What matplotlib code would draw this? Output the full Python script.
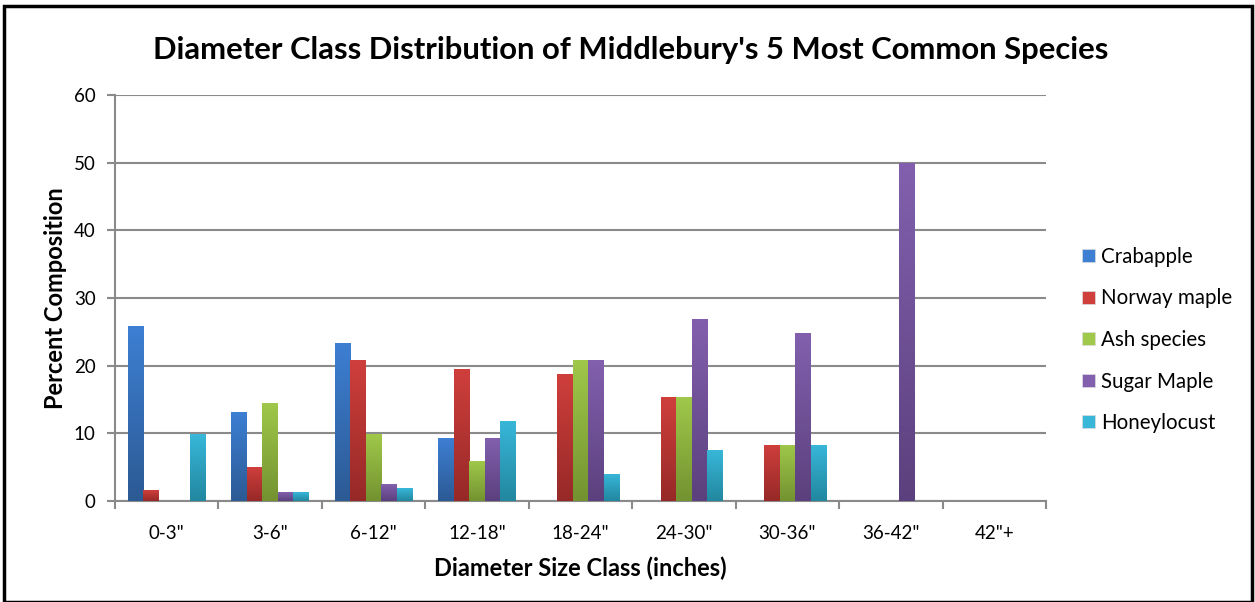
import matplotlib
matplotlib.use("Agg")
import matplotlib.pyplot as plt
import numpy as np
from matplotlib.colors import LinearSegmentedColormap
from matplotlib.patches import Rectangle

plt.rcParams['font.family'] = ['Lato', 'DejaVu Sans']

categories = ['0-3"', '3-6"', '6-12"', '12-18"', '18-24"', '24-30"', '30-36"', '36-42"', '42"+']
series_names = ['Crabapple', 'Norway maple', 'Ash species', 'Sugar Maple', 'Honeylocust']
crabapple = [25.8, 13.1, 23.4, 9.3, 0, 0, 0, 0, 0]
norway_maple = [1.6, 5.0, 20.9, 19.5, 18.7, 15.3, 8.3, 0, 0]
ash_species = [0, 14.5, 9.9, 5.9, 20.8, 15.3, 8.3, 0, 0]
sugar_maple = [0, 1.3, 2.5, 9.3, 20.8, 26.9, 24.9, 50.0, 0]
honeylocust = [9.9, 1.3, 1.9, 11.8, 4.0, 7.5, 8.3, 0, 0]
series_values = [crabapple, norway_maple, ash_species, sugar_maple, honeylocust]

top_colors = ['#3D7FD3', '#CF3F3C', '#A0C84A', '#8260AE', '#38B7D9']
bottom_colors = ['#2C5A94', '#962927', '#739230', '#5B407D', '#22879F']

fig = plt.figure(figsize=(12.55, 6.02), dpi=100)
W, H = 1255, 602
ax = fig.add_axes([115 / W, 1 - 501 / H, (1046 - 115) / W, (501 - 95) / H])

x = np.arange(len(categories))
bw = 0.15
handles = []
for i, (name, vals) in enumerate(zip(series_names, series_values)):
    offs = (i - 2) * bw
    bars = ax.bar(x + offs, vals, width=bw, color=top_colors[i], label=name,
                  edgecolor='none', zorder=3)
    cmap = LinearSegmentedColormap.from_list('g%d' % i, [bottom_colors[i], top_colors[i]])
    for b in bars:
        h = b.get_height()
        if h <= 0:
            continue
        bx, by = b.get_x(), b.get_y()
        im = ax.imshow(np.linspace(0, 1, 256).reshape(-1, 1), cmap=cmap, aspect='auto',
                       extent=[bx, bx + bw, by, by + h], origin='lower', zorder=4,
                       interpolation='bilinear')
        im.set_clip_path(b)
    handles.append(Rectangle((0, 0), 1, 1, facecolor=top_colors[i], edgecolor='#dddddd', lw=0.5))

ax.set_xlim(-0.5, len(categories) - 0.5)
ax.set_ylim(0, 60)
ax.set_yticks(np.arange(0, 61, 10))
ax.grid(axis='y', color='#8a8a8a', linewidth=1.5, zorder=0)
ax.set_axisbelow(True)

ax.set_xticks(np.arange(-0.5, len(categories), 1.0))
ax.set_xticklabels([])
ax.set_xticks(x, minor=True)
ax.set_xticklabels(categories, minor=True)
ax.tick_params(axis='x', which='major', length=6, width=1.5, color='#8a8a8a', direction='out')
ax.tick_params(axis='x', which='minor', length=0, pad=17, labelsize=13.5)
ax.tick_params(axis='y', length=6, width=1.5, color='#8a8a8a', labelsize=13.5, pad=8)

for s in ['top', 'right']:
    ax.spines[s].set_visible(False)
for s in ['left', 'bottom']:
    ax.spines[s].set_color('#8a8a8a')
    ax.spines[s].set_linewidth(1.5)

ax.set_xlabel('Diameter Size Class (inches)', fontsize=17, fontweight='bold', labelpad=11)
ax.set_ylabel('Percent Composition', fontsize=17, fontweight='bold', labelpad=5)

fig.text(631 / W, 1 - 50 / H, "Diameter Class Distribution of Middlebury's 5 Most Common Species",
         ha='center', va='center', fontsize=22.3, fontweight='bold')

leg = fig.legend(handles, series_names, loc='center left', bbox_to_anchor=(1074 / W, 1 - 340 / H),
                 frameon=False, fontsize=14.8, handlelength=0.6, handleheight=0.6,
                 handletextpad=0.3, labelspacing=1.05, borderaxespad=0)

fig.add_artist(Rectangle((4 / W, 0), (1252 - 4) / W, 1 - 6 / H, transform=fig.transFigure,
                         fill=False, edgecolor='black', linewidth=2.5))

fig.savefig('out.png', dpi=100)
